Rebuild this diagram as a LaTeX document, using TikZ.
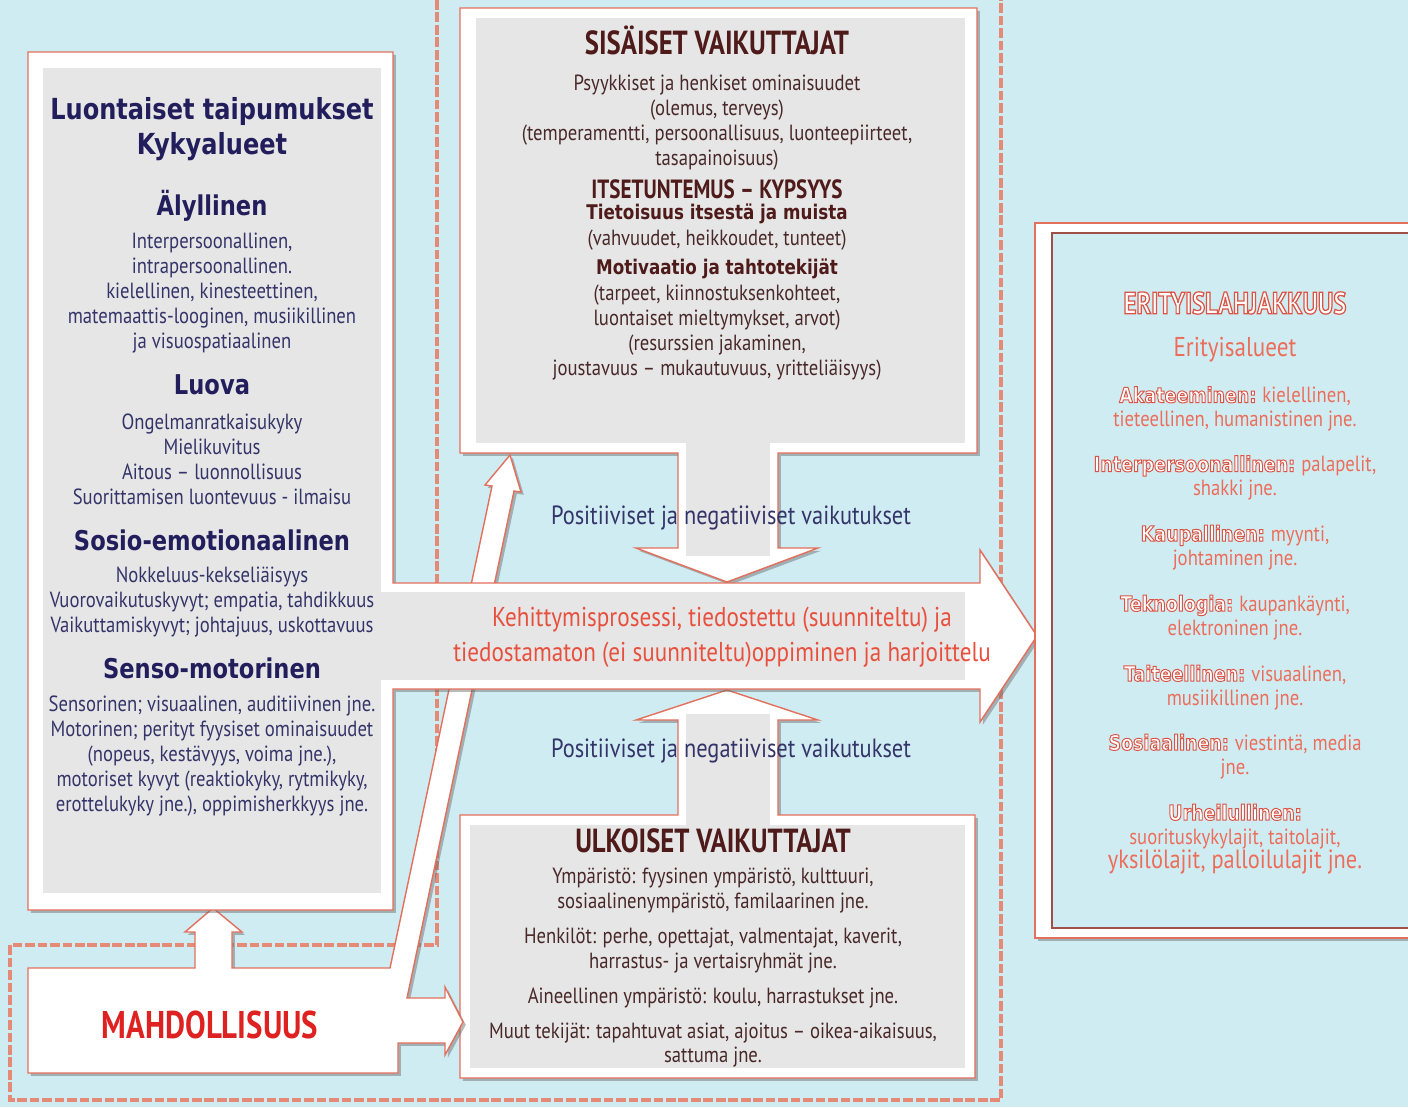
\documentclass[tikz,border=0pt]{standalone}
\usepackage{fontspec}
\setmainfont{PT Sans}[FakeStretch=0.85]
\newfontfamily\condb{PT Sans}[FakeStretch=0.8,Ligatures=TeX]
\newfontfamily\tah{DejaVu Sans}[FakeStretch=0.83,Ligatures=TeX]
\usetikzlibrary{shadows}
\definecolor{bg}{RGB}{208,236,243}
\definecolor{redline}{RGB}{226,112,92}
\definecolor{dashcol}{RGB}{228,138,118}
\definecolor{panel}{RGB}{230,230,230}
\definecolor{navyhead}{RGB}{34,30,92}
\definecolor{navybody}{RGB}{52,52,105}
\definecolor{maroon}{RGB}{78,26,26}
\definecolor{brownbody}{RGB}{72,40,40}
\definecolor{arrowtxt}{RGB}{232,80,62}
\definecolor{salmon}{RGB}{236,110,90}
\definecolor{mahred}{RGB}{222,34,34}
\definecolor{innerline}{RGB}{160,80,70}
% outlined text: white fill, red stroke (text render mode 2)
\newcommand\outl[2]{{\color{white}\special{pdf:code 0.86 0.33 0.27 RG #1 w 2 Tr}#2\special{pdf:code 0 Tr 0.4 w}}}
\newcommand\rbold[1]{{\tah\bfseries\fontsize{12}{13.7}\selectfont\outl{0.55}{#1}}}
\newcommand\rreg[1]{{\color{salmon}\fontsize{12.5}{13.7}\selectfont #1}}
\begin{document}
\begin{tikzpicture}[x=0.02cm,y=-0.02cm,
  frame/.style={fill=white,draw=redline,line width=0.8pt,
    drop shadow={shadow xshift=1.6pt,shadow yshift=-1.6pt,opacity=0.45,fill=black!60}},
  dashline/.style={draw=dashcol,line width=2pt,dash pattern=on 5.5pt off 1.6pt},
  txt/.style={inner sep=0pt,align=center},
  lhead/.style={txt,text=navyhead,font=\tah\bfseries\fontsize{15.5}{18}\selectfont},
  lbody/.style={txt,text=navybody,font=\fontsize{12.5}{14.2}\selectfont},
  sbody/.style={txt,text=brownbody,font=\fontsize{12.5}{14.2}\selectfont},
  stitle/.style={txt,text=maroon,font=\condb\bfseries\fontsize{19}{21}\selectfont},
  sbold/.style={txt,text=maroon,font=\tah\bfseries\fontsize{11.5}{14}\selectfont},
  posneg/.style={txt,text=navybody,font=\fontsize{15}{17}\selectfont},
  rtext/.style={txt,font=\fontsize{11.5}{13.7}\selectfont}]
\useasboundingbox (0,0) rectangle (1408,1107);
\fill[bg] (0,0) rectangle (1408,1107);
% dashed frame
\draw[dashline] (437,0) -- (437,945) -- (10,945) -- (10,1100) -- (1001,1100) -- (1001,0);
% top box with down arrow
\path[frame] (460,8) -- (977,8) -- (977,453) -- (778,453) -- (778,548) -- (818,548)
  -- (727,582) -- (636,548) -- (678,548) -- (678,453) -- (460,453) -- cycle;
\fill[panel] (476,18) rectangle (965,443);
\fill[panel] (686,443) rectangle (770,556);
% bottom box with up arrow
\path[frame] (460,815) -- (678,815) -- (678,720) -- (636,720) -- (727,690) -- (818,720)
  -- (778,720) -- (778,815) -- (975,815) -- (975,1078) -- (460,1078) -- cycle;
\fill[panel] (470,825) rectangle (965,1068);
\fill[panel] (686,714) rectangle (770,825);
% mahdollisuus with arrows
\path[frame] (28,968) -- (195,968) -- (195,932) -- (185,932) -- (213,908) -- (242,932)
  -- (232,932) -- (232,968) -- (390,968) -- (492,486) -- (485,485) -- (510,455)
  -- (521,492) -- (514,491) -- (407,998) -- (445,998) -- (445,987) -- (463,1022)
  -- (445,1055) -- (445,1043) -- (398,1043) -- (398,1073) -- (28,1073) -- cycle;
% left box with main arrow
\path[frame] (28,52) -- (393,52) -- (393,583) -- (980,583) -- (980,550) -- (1037,636)
  -- (980,722) -- (980,689) -- (393,689) -- (393,910) -- (28,910) -- cycle;
\fill[panel] (43,68) rectangle (381,893);
\fill[panel] (380,592) rectangle (965,680);
% right box
\path[frame] (1035,223) rectangle (1420,938);
\draw[fill=bg,draw=innerline,line width=1.2pt] (1052,233) rectangle (1420,928);

% left box texts
\node[lhead,font=\tah\bfseries\fontsize{16.5}{19.9}\selectfont] (lt) at (212,129.5) {Luontaiset taipumukset\\Kykyalueet};
\node[lhead] (aly) at (212,206) {Älyllinen};
\node[lbody] (alyb) at (212,293) {Interpersoonallinen,\\intrapersoonallinen.\\kielellinen, kinesteettinen,\\matemaattis-looginen, musiikillinen\\ja visuospatiaalinen};
\node[lhead] (luo) at (212,385) {Luova};
\node[lbody] (luob) at (212,459.5) {Ongelmanratkaisukyky\\Mielikuvitus\\Aitous – luonnollisuus\\Suorittamisen luontevuus - ilmaisu};
\node[lhead] (sos) at (212,540) {Sosio-emotionaalinen};
\node[lbody] (sosb) at (212,602) {Nokkeluus-kekseliäisyys\\Vuorovaikutuskyvyt; empatia, tahdikkuus\\Vaikuttamiskyvyt; johtajuus, uskottavuus};
\node[lhead] (sen) at (212,668) {Senso-motorinen};
\node[lbody] (senb) at (212,756) {Sensorinen; visuaalinen, auditiivinen jne.\\Motorinen; perityt fyysiset ominaisuudet\\(nopeus, kestävyys, voima jne.),\\motoriset kyvyt (reaktiokyky, rytmikyky,\\erottelukyky jne.), oppimisherkkyys jne.};

% top box texts
\node[stitle] (sist) at (717,40) {SISÄISET VAIKUTTAJAT};
\node[sbody] (sisb1) at (717,123) {Psyykkiset ja henkiset ominaisuudet\\(olemus, terveys)\\(temperamentti, persoonallisuus, luonteepiirteet,\\tasapainoisuus)};
\node[stitle,font=\condb\bfseries\fontsize{15}{17}\selectfont] (its) at (717,189) {ITSETUNTEMUS – KYPSYYS};
\node[sbold] (tie) at (717,214) {Tietoisuus itsestä ja muista};
\node[sbody] (vah) at (717,240) {(vahvuudet, heikkoudet, tunteet)};
\node[sbold] (mot) at (717,269) {Motivaatio ja tahtotekijät};
\node[sbody] (sisb2) at (717,332.5) {(tarpeet, kiinnostuksenkohteet,\\luontaiset mieltymykset, arvot)\\(resurssien jakaminen,\\joustavuus – mukautuvuus, yritteliäisyys)};

% influences
\node[posneg] (pn1) at (731,518) {Positiiviset ja negatiiviset vaikutukset};
\node[posneg] (pn2) at (731,751) {Positiiviset ja negatiiviset vaikutukset};

% main arrow text
\node[txt,text=arrowtxt,font=\fontsize{15.5}{19.9}\selectfont] (kehi) at (722,637.5)
  {Kehittymisprosessi, tiedostettu (suunniteltu) ja\\tiedostamaton (ei suunniteltu)oppiminen ja harjoittelu};

% bottom box texts
\node[stitle] (ult) at (713,841) {ULKOISET VAIKUTTAJAT};
\node[sbody] (ul1) at (713,890.5) {Ympäristö: fyysinen ympäristö, kulttuuri,\\sosiaalinenympäristö, familaarinen jne.};
\node[sbody] (ul2) at (713,950.5) {Henkilöt: perhe, opettajat, valmentajat, kaverit,\\harrastus- ja vertaisryhmät jne.};
\node[sbody] (ul3) at (713,998) {Aineellinen ympäristö: koulu, harrastukset jne.};
\node[sbody] (ul4) at (713,1045) {Muut tekijät: tapahtuvat asiat, ajoitus – oikea-aikaisuus,\\sattuma jne.};

% mahdollisuus
\node[txt,text=mahred,font=\condb\bfseries\fontsize{22}{24}\selectfont] (mah) at (210,1025) {MAHDOLLISUUS};

% right box texts
\node[txt,font=\condb\bfseries\fontsize{17.5}{19}\selectfont] (eri) at (1235,303) {\outl{0.7}{ERITYISLAHJAKKUUS}};
\node[txt,text=salmon,font=\fontsize{15.5}{18}\selectfont] (era) at (1235,350) {Erityisalueet};
\node[rtext] (r1) at (1235,409) {\rbold{Akateeminen:} \rreg{kielellinen,}\\\rreg{tieteellinen, humanistinen jne.}};
\node[rtext] (r2) at (1235,478) {\rbold{Interpersoonallinen:} \rreg{palapelit,}\\\rreg{shakki jne.}};
\node[rtext] (r3) at (1235,547.5) {\rbold{Kaupallinen:} \rreg{myynti,}\\\rreg{johtaminen jne.}};
\node[rtext] (r4) at (1235,617.5) {\rbold{Teknologia:} \rreg{kaupankäynti,}\\\rreg{elektroninen jne.}};
\node[rtext] (r5) at (1235,687.5) {\rbold{Taiteellinen:} \rreg{visuaalinen,}\\\rreg{musiikillinen jne.}};
\node[rtext] (r6) at (1235,756.5) {\rbold{Sosiaalinen:} \rreg{viestintä, media}\\\rreg{jne.}};
\node[rtext] (r7) at (1235,839) {\rbold{Urheilullinen:}\\\rreg{suorituskykylajit, taitolajit,}\\{\color{salmon}\fontsize{15}{15}\selectfont yksilölajit, palloilulajit jne.}};
\end{tikzpicture}
\end{document}
